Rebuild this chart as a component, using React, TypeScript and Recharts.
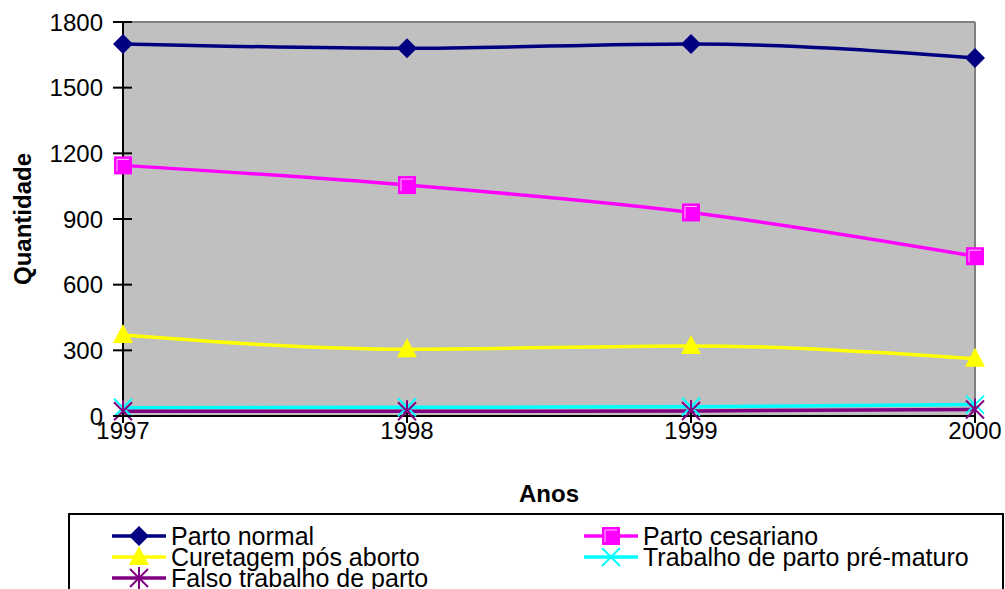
import React from 'react';
import { LineChart, Line, XAxis, YAxis, CartesianGrid, Legend, ReferenceLine, Label } from 'recharts';

const years = ['1997', '1998', '1999', '2000'];
const partoNormal = [1700, 1680, 1700, 1635];
const partoCesariano = [1145, 1055, 930, 730];
const curetagem = [370, 305, 320, 262];
const trabalhoPreMaturo = [38, 40, 42, 52];
const falsoTrabalho = [22, 22, 23, 30];
const yTicks = [0, 300, 600, 900, 1200, 1500, 1800];

const FONT = '"Liberation Sans", Arial, sans-serif';

const series = [
  { key: 'normal', name: 'Parto normal', color: '#000080', marker: 'diamond' },
  { key: 'cesariano', name: 'Parto cesariano', color: '#FF00FF', marker: 'square' },
  { key: 'curetagem', name: 'Curetagem pós aborto', color: '#FFFF00', marker: 'triangle' },
  { key: 'premat', name: 'Trabalho de parto pré-maturo', color: '#00FFFF', marker: 'x' },
  { key: 'falso', name: 'Falso trabalho de parto', color: '#800080', marker: 'star' },
];

const data = years.map((year, i) => ({
  year,
  normal: partoNormal[i],
  cesariano: partoCesariano[i],
  curetagem: curetagem[i],
  premat: trabalhoPreMaturo[i],
  falso: falsoTrabalho[i],
}));

const Marker = ({ type, cx, cy, color }: any) => {
  if (cx == null || cy == null) return null;
  switch (type) {
    case 'diamond':
      return <polygon points={`${cx},${cy - 10} ${cx + 10},${cy} ${cx},${cy + 10} ${cx - 10},${cy}`} fill={color} />;
    case 'square':
      return (
        <g>
          <rect x={cx - 9} y={cy - 9} width={18} height={18} fill={color} />
          <polyline points={`${cx - 6},${cy + 6} ${cx - 6},${cy - 6} ${cx + 6},${cy - 6}`} fill="none" stroke="#FFC0FF" strokeWidth={1} />
        </g>
      );
    case 'triangle':
      return <polygon points={`${cx},${cy - 11} ${cx + 10},${cy + 8} ${cx - 10},${cy + 8}`} fill={color} />;
    case 'x':
      return (
        <g stroke={color} strokeWidth={2}>
          <line x1={cx - 9} y1={cy - 9} x2={cx + 9} y2={cy + 9} />
          <line x1={cx - 9} y1={cy + 9} x2={cx + 9} y2={cy - 9} />
        </g>
      );
    case 'star':
      return (
        <g stroke={color} strokeWidth={2}>
          <line x1={cx - 9} y1={cy - 9} x2={cx + 9} y2={cy + 9} />
          <line x1={cx - 9} y1={cy + 9} x2={cx + 9} y2={cy - 9} />
          <line x1={cx} y1={cy - 11} x2={cx} y2={cy + 11} />
        </g>
      );
    default:
      return null;
  }
};

const XTick = ({ x, y, payload }: any) => (
  <g>
    <line x1={x} y1={y - 3} x2={x} y2={y + 7} stroke="#000" strokeWidth={2} />
    <text x={x} y={y + 23} textAnchor="middle" fontSize={24} fontFamily={FONT} fill="#000">
      {payload.value}
    </text>
  </g>
);

const YTick = ({ x, y, payload }: any) => (
  <g>
    <line x1={x - 10} y1={y} x2={x + 9} y2={y} stroke="#000" strokeWidth={2} />
    <text x={x - 20} y={y} dy="0.36em" textAnchor="end" fontSize={24} fontFamily={FONT} fill="#000">
      {payload.value}
    </text>
  </g>
);

const LegendBox = () => (
  <div
    style={{
      position: 'absolute',
      left: 0,
      top: 0,
      width: 936,
      height: 90,
      border: '2px solid #000',
      boxSizing: 'border-box',
      background: '#fff',
      fontFamily: FONT,
      fontSize: 25,
      overflow: 'hidden',
    }}
  >
    {series.map((s, i) => {
      const col = i % 2;
      const row = Math.floor(i / 2);
      const left = col === 0 ? 40 : 512;
      const top = 7 + row * 21;
      return (
        <div key={s.key} style={{ position: 'absolute', left, top, height: 28, whiteSpace: 'nowrap' }}>
          <svg width={58} height={28} style={{ position: 'absolute', left: 0, top: 0 }}>
            <line x1={2} y1={14} x2={56} y2={14} stroke={s.color} strokeWidth={3.5} />
            <Marker type={s.marker} cx={29} cy={14} color={s.color} />
          </svg>
          <span style={{ position: 'absolute', left: 61, top: 0, lineHeight: '28px', color: '#000' }}>{s.name}</span>
        </div>
      );
    })}
  </div>
);

export default function App() {
  return (
    <div style={{ position: 'absolute', left: 0, top: 0, width: 1005, height: 589, background: '#fff', overflow: 'hidden' }}>
      <LineChart width={1005} height={589} data={data} margin={{ top: 22, right: 30, bottom: 0, left: 0 }}>
        <CartesianGrid fill="#C0C0C0" horizontal={false} vertical={false} />
        <ReferenceLine y={1800} stroke="#808080" strokeWidth={2} />
        <ReferenceLine x="2000" stroke="#808080" strokeWidth={2} />
        <XAxis
          dataKey="year"
          interval={0}
          tickSize={0}
          tickMargin={0}
          tickLine={false}
          axisLine={{ stroke: '#000', strokeWidth: 2 }}
          tick={<XTick />}
          height={90}
        >
          <Label
            content={({ viewBox }: any) => (
              <text
                x={viewBox.x + viewBox.width / 2}
                y={viewBox.y + 86}
                textAnchor="middle"
                fontSize={24}
                fontWeight="bold"
                fontFamily={FONT}
                fill="#000"
              >
                Anos
              </text>
            )}
          />
        </XAxis>
        <YAxis
          width={123}
          domain={[0, 1800]}
          ticks={yTicks}
          interval={0}
          tickSize={0}
          tickMargin={0}
          tickLine={false}
          axisLine={{ stroke: '#000', strokeWidth: 2 }}
          tick={<YTick />}
        >
          <Label
            content={({ viewBox }: any) => {
              const cx = 22;
              const cy = viewBox.y + viewBox.height / 2;
              return (
                <text
                  x={cx}
                  y={cy}
                  transform={`rotate(-90 ${cx} ${cy})`}
                  textAnchor="middle"
                  dominantBaseline="central"
                  fontSize={24}
                  fontWeight="bold"
                  fontFamily={FONT}
                  fill="#000"
                >
                  Quantidade
                </text>
              );
            }}
          />
        </YAxis>
        {series.map((s) => (
          <Line
            key={s.key}
            type="monotone"
            dataKey={s.key}
            name={s.name}
            stroke={s.color}
            strokeWidth={3.5}
            isAnimationActive={false}
            dot={(p: any) => <Marker key={`${s.key}-${p.index}`} type={s.marker} cx={p.cx} cy={p.cy} color={s.color} />}
            activeDot={false}
          />
        ))}
        <Legend
          content={<LegendBox />}
          wrapperStyle={{ position: 'absolute', left: 68, top: 513, width: 936, height: 83 }}
        />
      </LineChart>
    </div>
  );
}
